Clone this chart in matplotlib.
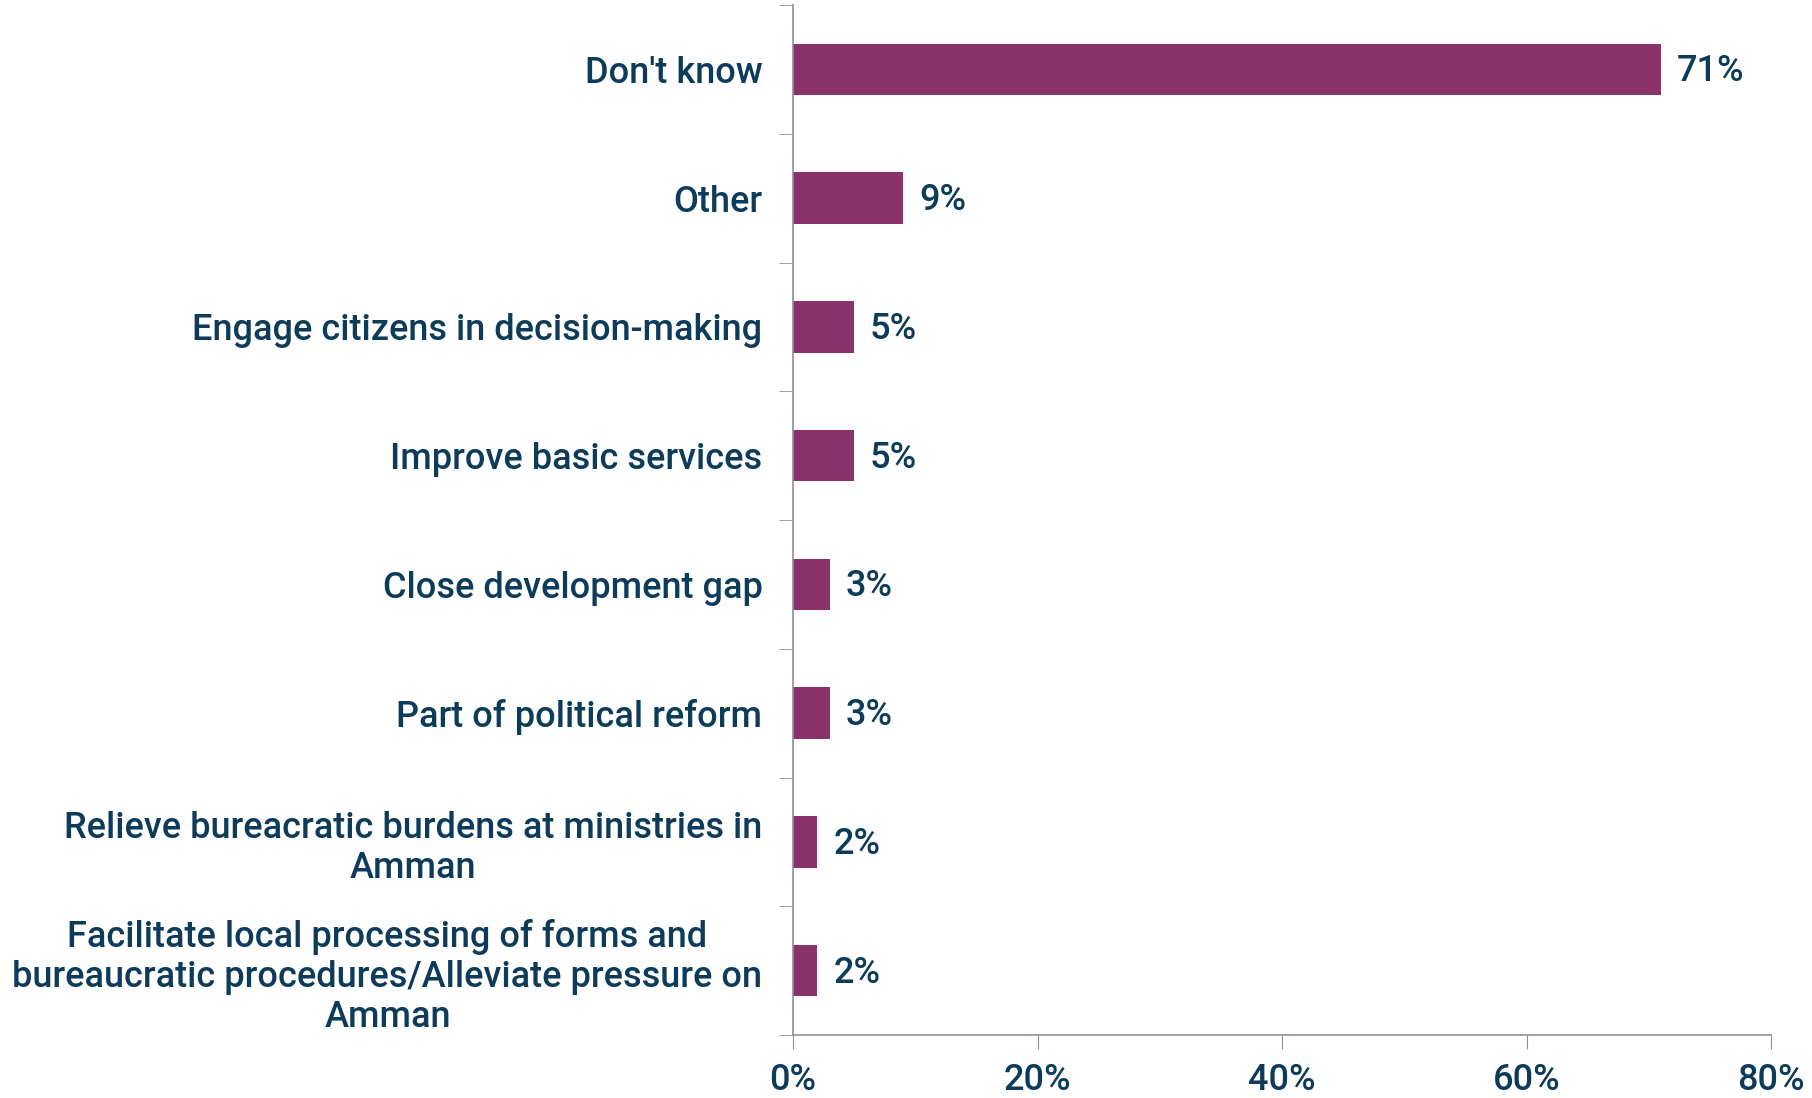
import matplotlib.pyplot as plt
import numpy as np

categories = ["Don't know",
              "Other",
              "Engage citizens in decision-making",
              "Improve basic services",
              "Close development gap",
              "Part of political reform",
              "Relieve bureacratic burdens at ministries in\nAmman",
              "Facilitate local processing of forms and\nbureaucratic procedures/Alleviate pressure on\nAmman"]
values = [71, 9, 5, 5, 3, 3, 2, 2]
x_ticks = [0, 20, 40, 60, 80]

bar_color = "#8B326B"
text_color = "#0D3B5A"
axis_color = "#8C9096"

plt.rcParams['font.family'] = ['Roboto', 'DejaVu Sans']
fsize = 26

fig = plt.figure(figsize=(18.12, 10.98), dpi=100)
ax = fig.add_axes([793 / 1812, 63 / 1098, 978 / 1812, 1030 / 1098])

n = len(categories)
ypos = np.arange(n)
ax.barh(ypos, values, height=0.4, color=bar_color)
ax.set_ylim(n - 0.5, -0.5)
ax.set_xlim(0, 80)

for y, v in zip(ypos, values):
    ax.text(v + 1.3, y + 0.02, f"{v}%", va="center", ha="left",
            fontsize=fsize, color=text_color, fontweight="medium")

# category labels at bar centres, tick marks at the boundaries
ax.set_yticks(ypos)
ax.set_yticklabels(categories, fontsize=fsize, color=text_color,
                   multialignment="center", linespacing=1.18, fontweight="medium")
ax.tick_params(axis="y", length=0, pad=22)
ax.set_yticks(np.arange(n + 1) - 0.5, minor=True)
ax.tick_params(axis="y", which="minor", length=10, color=axis_color, direction="out")

ax.set_xticks(x_ticks)
ax.set_xticklabels([f"{t}%" for t in x_ticks], fontsize=fsize, color=text_color,
                   fontweight="medium")
ax.tick_params(axis="x", length=10, color=axis_color, pad=10)

for s in ["top", "right"]:
    ax.spines[s].set_visible(False)
for s in ["left", "bottom"]:
    ax.spines[s].set_color(axis_color)
    ax.spines[s].set_linewidth(1.2)

fig.savefig("out.png", dpi=100, facecolor="white")
